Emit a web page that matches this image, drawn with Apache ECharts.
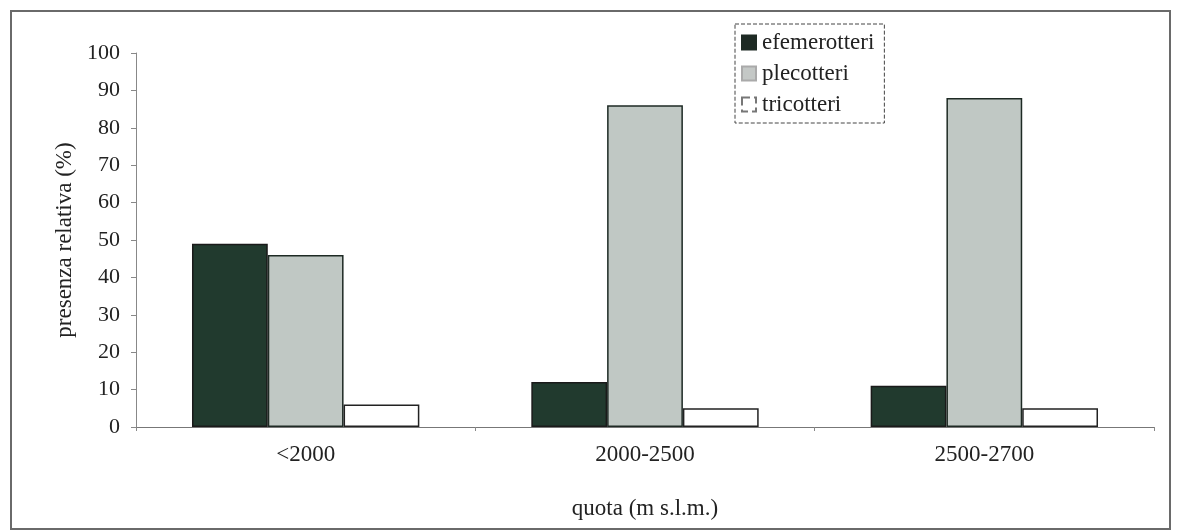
<!DOCTYPE html>
<html>
<head>
<meta charset="utf-8">
<script src="https://cdn.jsdelivr.net/npm/echarts@6/dist/echarts.min.js"></script>
<style>
  html, body { margin: 0; padding: 0; background: #fff; }
  #frame {
    position: absolute; left: 10px; top: 10px;
    width: 1161px; height: 520px;
    border: 2px solid #6a6a6a; box-sizing: border-box;
  }
  #chart { position: absolute; left: 0; top: 0; width: 1181px; height: 532px; }
</style>
</head>
<body>
<div id="frame"></div>
<div id="chart"></div>
<script>
// quote altimetriche
const categories = ['<2000', '2000-2500', '2500-2700']
const efemerotteri = [49, 12, 11]
const plecotteri = [46, 86, 88]
const tricotteri = [6, 5, 5]

const serif = 'Liberation Serif'
const chart = echarts.init(document.getElementById('chart'))

chart.setOption({
  backgroundColor: 'transparent',
  animation: false,
  textStyle: { fontFamily: serif, color: '#222' },
  legend: {
    orient: 'vertical',
    left: 735,
    top: 24,
    padding: [7, 10, 7, 6],
    itemGap: 8,
    itemWidth: 14,
    itemHeight: 14,
    borderColor: '#444',
    borderWidth: 1,
    borderType: 'dashed',
    icon: 'rect',
    textStyle: { fontFamily: serif, fontSize: 23, color: '#222', padding: [0, 0, 0, 1], lineHeight: 22 },
    data: [
      { name: 'efemerotteri', itemStyle: { color: '#1e2a24', borderColor: '#1e2a24' } },
      { name: 'plecotteri', itemStyle: { color: '#c4c8c6', borderColor: '#aaa' } },
      { name: 'tricotteri', itemStyle: { color: '#fff', borderColor: '#777', borderType: 'dashed' } }
    ]
  },
  grid: {
    left: 136,
    right: 27,
    top: 53,
    bottom: 105,
    containLabel: false
  },
  xAxis: {
    type: 'category',
    data: categories,
    name: 'quota (m s.l.m.)',
    nameLocation: 'middle',
    nameGap: 70,
    nameTextStyle: { fontFamily: serif, fontSize: 23, color: '#222' },
    axisLine: { lineStyle: { color: '#777', width: 1 } },
    axisTick: { show: true, length: 4, lineStyle: { color: '#888' } },
    axisLabel: { fontFamily: serif, fontSize: 23, color: '#222', margin: 16 }
  },
  yAxis: {
    type: 'value',
    min: 0,
    max: 100,
    interval: 10,
    name: 'presenza relativa (%)',
    nameLocation: 'middle',
    nameGap: 58,
    nameRotate: 90,
    nameTextStyle: { fontFamily: serif, fontSize: 23, color: '#222' },
    axisLine: { show: true, lineStyle: { color: '#888', width: 1 } },
    axisTick: { show: true, inside: false, length: 5, lineStyle: { color: '#888' } },
    axisLabel: { fontFamily: serif, fontSize: 22, color: '#222', margin: 16 },
    splitLine: { show: false }
  },
  series: [
    {
      name: 'efemerotteri',
      type: 'bar',
      data: efemerotteri,
      barGap: '0%',
      barCategoryGap: '33%',
      itemStyle: { color: '#213a2e', borderColor: '#1a1a1a', borderWidth: 1.5 }
    },
    {
      name: 'plecotteri',
      type: 'bar',
      data: plecotteri,
      itemStyle: { color: '#c0c8c4', borderColor: '#1e2a24', borderWidth: 1.5 }
    },
    {
      name: 'tricotteri',
      type: 'bar',
      data: tricotteri,
      itemStyle: { color: '#ffffff', borderColor: '#222', borderWidth: 1.5 }
    }
  ]
})
</script>
</body>
</html>
